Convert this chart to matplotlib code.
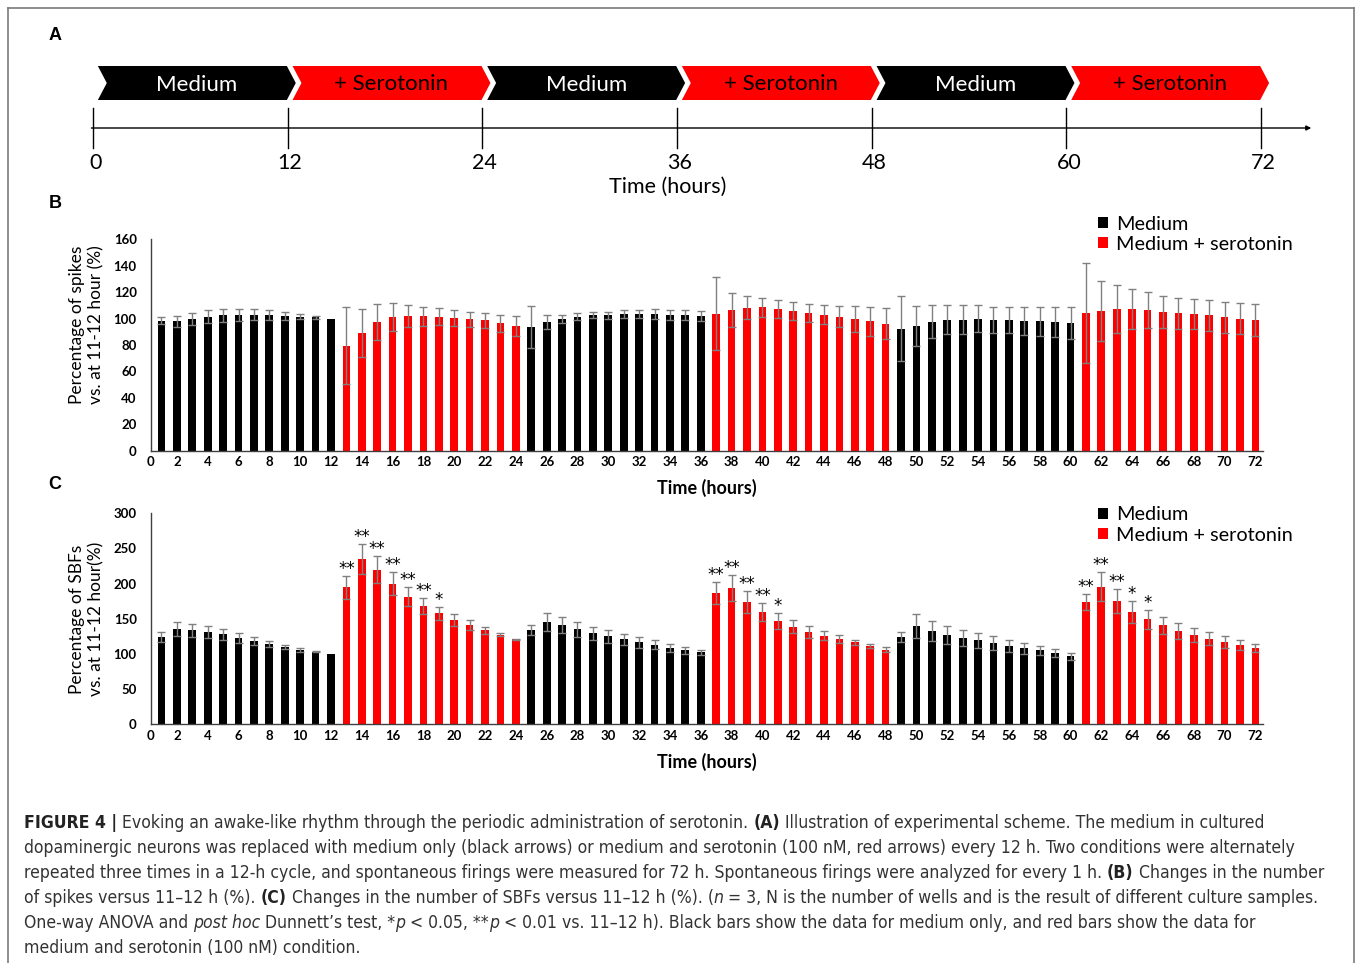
import matplotlib
matplotlib.use('Agg')
import matplotlib.pyplot as plt
from matplotlib import font_manager
from matplotlib.patches import Polygon, Patch
import numpy as np

# hourly recordings, normalised to the 11-12 h bin
hours = np.arange(1, 73)

spikes = [98.5, 98, 99.7, 101.5, 102.5, 103, 103, 103, 102, 101.5, 101, 100,
          79.5, 89, 97.7, 101.3, 102, 101.8, 101.3, 100.5, 99.5, 98.7, 96.5, 94.4,
          93.4, 97.7, 99.7, 101.5, 102.5, 102.5, 103.5, 103.5, 103.5, 102.8, 102.8, 102.3,
          103.8, 106.3, 108.3, 108.6, 107.3, 105.6, 104.3, 103, 101.5, 99.7, 98, 96.2,
          92.4, 94.4, 97.7, 99, 99.2, 100, 99.2, 99, 98.2, 98, 97.5, 96.5,
          104, 105.8, 107.3, 107, 106.3, 105, 104, 103.5, 102.5, 101, 100, 99]
spikes_err = [2.5, 4.3, 4.8, 4.8, 4.8, 4.6, 4, 3.8, 3.3, 1.8, 1.3, 0,
              29, 18, 13.6, 10.6, 8.4, 7.3, 6.5, 5.8, 5.8, 5.8, 6.5, 7.8,
              16, 5.3, 3.3, 2.5, 2.3, 2.8, 3.3, 3.3, 3.5, 3.8, 3.8, 3.8,
              27.8, 12.9, 8.6, 7.3, 6.8, 6.6, 6.8, 7.3, 8.1, 9.6, 11, 12,
              24.7, 15, 12.4, 11, 10.9, 10, 9.8, 10, 10.4, 11, 11.5, 12,
              38, 22.7, 18, 15.2, 13.7, 12.4, 11.6, 11.4, 11.6, 11.6, 11.6, 12.1]

sbf = [124.6, 135, 133.6, 131.3, 128, 123.2, 119, 113.7, 110, 105.7, 103.3, 100,
       194.8, 235, 220, 200, 181.5, 167.8, 157.8, 148.8, 141.2, 133.6, 127.5, 120.9,
       134.1, 146, 140.8, 135, 129.4, 125.1, 120.9, 116.6, 113.3, 109, 105.2, 102.4,
       186.7, 193.8, 173.9, 159.2, 146.9, 138.9, 130.8, 126.1, 121.3, 116.6, 111.4, 106.2,
       124.2, 140.3, 132.7, 127.5, 122.7, 119.4, 115.6, 111.8, 108, 105.2, 101.4, 96.7,
       173.9, 195.7, 175.4, 160.2, 149.3, 140.8, 133.2, 127, 121.8, 117.1, 112.8, 108.5]
sbf_err = [7, 10, 9.5, 8.5, 8, 7, 5.7, 4.3, 3.3, 2.8, 1, 0,
           16.6, 21.3, 19, 16.6, 13.3, 11.4, 9, 8.5, 6.6, 4.7, 2.4, 1,
           7.1, 12.8, 11.3, 10.5, 9.5, 9, 8, 7.6, 6.2, 5.7, 4.8, 3.8,
           15.6, 18, 15.6, 12.8, 10.9, 9.5, 8.5, 6.6, 5.2, 3.8, 2.4, 3.8,
           6.6, 17, 13.7, 12.8, 11.9, 10.9, 10.4, 8.5, 8, 6.6, 5.2, 4.7,
           10.9, 20.4, 17.5, 15.6, 13.3, 12.3, 11.3, 10.4, 9, 8, 6.6, 5.2]

# Dunnett vs 11-12 h
sbf_sig = {13: '**', 14: '**', 15: '**', 16: '**', 17: '**', 18: '**', 19: '*',
           37: '**', 38: '**', 39: '**', 40: '**', 41: '*',
           61: '**', 62: '**', 63: '**', 64: '*', 65: '*'}

scheme_bounds = [0, 12, 24, 36, 48, 60, 72]
scheme_labels = ['Medium', '+ Serotonin'] * 3
legend_labels = ['Medium', 'Medium + serotonin']
xtick_labels = ['0'] + [str(h) for h in range(2, 73, 2)]

BLACK = '#000000'
RED = '#ff0000'
ERR = '#808080'

names = {f.name for f in font_manager.fontManager.ttflist}
CHART = ['Lato', 'DejaVu Sans'] if 'Lato' in names else ['DejaVu Sans']
if 'Liberation Sans Narrow' in names:
    CAP_FAMILY, CAP_STRETCH = ['Liberation Sans Narrow', 'DejaVu Sans'], 'normal'
else:
    CAP_FAMILY, CAP_STRETCH = ['DejaVu Sans'], 'condensed'
plt.rcParams['font.family'] = CHART

W, H = 1357, 963
fig = plt.figure(figsize=(W / 100, H / 100), dpi=100)
fig.patch.set_facecolor('white')


def fx(px):
    return px / W


def fy(py):
    return 1 - py / H


# outer frame
for xs, ys in [([8, 8], [H + 5, 8]), ([8, 1354], [8, 8]), ([1354, 1354], [8, H + 5])]:
    fig.add_artist(plt.Line2D([fx(x) for x in xs], [fy(y) for y in ys],
                              color='#7a7a7a', lw=1.2))

# panel letters
for letter, py in [('A', 35), ('B', 203), ('C', 484)]:
    fig.text(fx(55), fy(py), letter, family=['Liberation Sans', 'DejaVu Sans'],
             fontweight='bold', fontsize=13, ha='center', va='center')

# ---- A: experimental scheme ----
ax_a = fig.add_axes([fx(93), fy(150), fx(1168), 90 / H])
ax_a.set_xlim(0, 72)
ax_a.set_ylim(-1.1, 3.4)
ax_a.axis('off')
bot, top = 1.4, 3.1
mid = (bot + top) / 2
d = 0.55
for k, lab in enumerate(scheme_labels):
    L = scheme_bounds[k] + 0.3
    R = scheme_bounds[k + 1] + 0.5
    is_med = lab == 'Medium'
    poly = Polygon([(L, bot), (L + d, mid), (L, top), (R - d, top), (R, mid), (R - d, bot)],
                   closed=True, facecolor=BLACK if is_med else RED, edgecolor='none',
                   clip_on=False)
    ax_a.add_patch(poly)
    ax_a.text((L + R) / 2, mid - (0.1 if is_med else 0.03), lab,
              color='white' if is_med else 'black', fontsize=16, ha='center', va='center')
ax_a.annotate('', xy=(75.1, 0), xytext=(-0.1, 0),
              arrowprops=dict(arrowstyle='-|>', lw=1, color='black', mutation_scale=7,
                              shrinkA=0, shrinkB=0), annotation_clip=False)
for b in scheme_bounds:
    ax_a.plot([b, b], [-1.0, 1.0], color='black', lw=1, clip_on=False)
    ax_a.text(b + 0.15, -1.75, str(b), fontsize=15.5, ha='center', va='center')
ax_a.text(35.4, -2.95, 'Time (hours)', fontsize=15.5, ha='center', va='center')


# ---- B and C: hourly bar charts ----
bar_colors = [BLACK if ((h - 1) // 12) % 2 == 0 else RED for h in hours]


def bar_panel(rect, values, errs, ymax, ystep, ylabel, label_y, legend_top):
    ax = fig.add_axes(rect)
    errs = np.array(errs, dtype=float)
    errs[errs == 0] = np.nan
    ax.bar(hours, values, width=0.5, color=bar_colors, yerr=errs,
           error_kw=dict(ecolor=ERR, elinewidth=1, capsize=2.6, capthick=1))
    ax.set_xlim(0.5, 72.5)
    ax.set_ylim(0, ymax)
    ax.set_yticks(np.arange(0, ymax + 1, ystep))
    ax.set_xticks([0.3] + list(range(2, 73, 2)))
    ax.set_xticklabels(xtick_labels)
    for s in ['top', 'right']:
        ax.spines[s].set_visible(False)
    for s in ['left', 'bottom']:
        ax.spines[s].set_color('#404040')
        ax.spines[s].set_linewidth(1)
    ax.tick_params(axis='y', length=0, pad=10, labelsize=9.5)
    ax.tick_params(axis='x', length=0, pad=4, labelsize=9.5)
    for t in ax.get_xticklabels() + ax.get_yticklabels():
        t.set_fontweight('bold')
    ax.set_xlabel('Time (hours)', fontsize=13, fontweight='bold', labelpad=8)
    fig.text(fx(87), fy(label_y), ylabel, rotation=90, ha='center', va='center',
             fontsize=12.5, linespacing=1.25, multialignment='center')
    handles = [Patch(facecolor=BLACK), Patch(facecolor=RED)]
    ax.legend(handles, legend_labels, loc='upper left',
              bbox_to_anchor=(fx(1098), fy(legend_top)), bbox_transform=fig.transFigure,
              frameon=False, fontsize=14.3, handlelength=0.5, handleheight=0.5,
              handletextpad=0.4, labelspacing=0.16, borderpad=0, borderaxespad=0)
    return ax


ax_b = bar_panel([fx(150.7), fy(450.7), fx(1112.4), 211.4 / H], spikes, spikes_err,
                 160, 20, 'Percentage of spikes\nvs. at 11-12 hour (%)', 325, 215.5)
ax_c = bar_panel([fx(150.7), fy(724.3), fx(1112.4), 211.0 / H], sbf, sbf_err,
                 300, 50, 'Percentage of SBFs\nvs. at 11-12 hour(%)', 619, 506.5)

for h, mark in sbf_sig.items():
    i = h - 1
    ax_c.annotate(mark, xy=(h, sbf[i] + sbf_err[i]), xytext=(0, -1.5),
                  textcoords='offset points', ha='center', va='bottom', fontsize=12,
                  family='DejaVu Sans')

# ---- caption ----
renderer = fig.canvas.get_renderer()
CAP_COLOR = '#333333'
cap_size = 11.5


def cap_kw(style):
    kw = dict(fontsize=cap_size, family=CAP_FAMILY, fontstretch=CAP_STRETCH,
              color=CAP_COLOR, ha='left', va='baseline')
    if style == 'b':
        kw['fontweight'] = 'bold'
        kw['color'] = '#222222'
    elif style == 'i':
        kw['fontstyle'] = 'italic'
    return kw


def text_width(s, style):
    t = fig.text(0, 0, s, **cap_kw(style))
    w = t.get_window_extent(renderer).width
    t.remove()
    return w


def run_widths(runs, space_w):
    pieces = []
    for s, style in runs:
        lead = len(s) - len(s.lstrip(' '))
        trail = len(s) - len(s.rstrip(' '))
        core = s.strip(' ')
        pieces.append((lead * space_w, core, style, trail * space_w))
    return pieces


caption = [
    [('FIGURE 4 |', 'b'), (' Evoking an awake-like rhythm through the periodic administration of serotonin. ', 'r'),
     ('(A)', 'b'), (' Illustration of experimental scheme. The medium in cultured', 'r')],
    [('dopaminergic neurons was replaced with medium only (black arrows) or medium and serotonin '
      '(100 nM, red arrows) every 12 h. Two conditions were alternately', 'r')],
    [('repeated three times in a 12-h cycle, and spontaneous firings were measured for 72 h. '
      'Spontaneous firings were analyzed for every 1 h. ', 'r'), ('(B)', 'b'),
     (' Changes in the number', 'r')],
    [('of spikes versus 11\u201312 h (%). ', 'r'), ('(C)', 'b'),
     (' Changes in the number of SBFs versus 11\u201312 h (%). (', 'r'), ('n', 'i'),
     (' = 3, N is the number of wells and is the result of different culture samples.', 'r')],
    [('One-way ANOVA and ', 'r'), ('post hoc', 'i'), (' Dunnett\u2019s test, *', 'r'), ('p', 'i'),
     (' < 0.05, **', 'r'), ('p', 'i'),
     (' < 0.01 vs. 11\u201312 h). Black bars show the data for medium only, and red bars show the data for', 'r')],
    [('medium and serotonin (100 nM) condition.', 'r')],
]

# size the caption so its first line spans the text block
space_w = text_width('a a', 'r') - text_width('aa', 'r')
first = sum(a + (text_width(c, st) if c else 0) + b
            for a, c, st, b in run_widths(caption[0], space_w))
cap_size = cap_size * 1239.0 / first
space_w = text_width('a a', 'r') - text_width('aa', 'r')

for li, runs in enumerate(caption):
    x = 24.0
    y = fy(828.5 + li * 24.8)
    for lead, core, style, trail in run_widths(runs, space_w):
        x += lead
        if core:
            t = fig.text(fx(x), y, core, **cap_kw(style))
            x += t.get_window_extent(renderer).width
        x += trail

fig.savefig('out.png', dpi=100, facecolor='white')
